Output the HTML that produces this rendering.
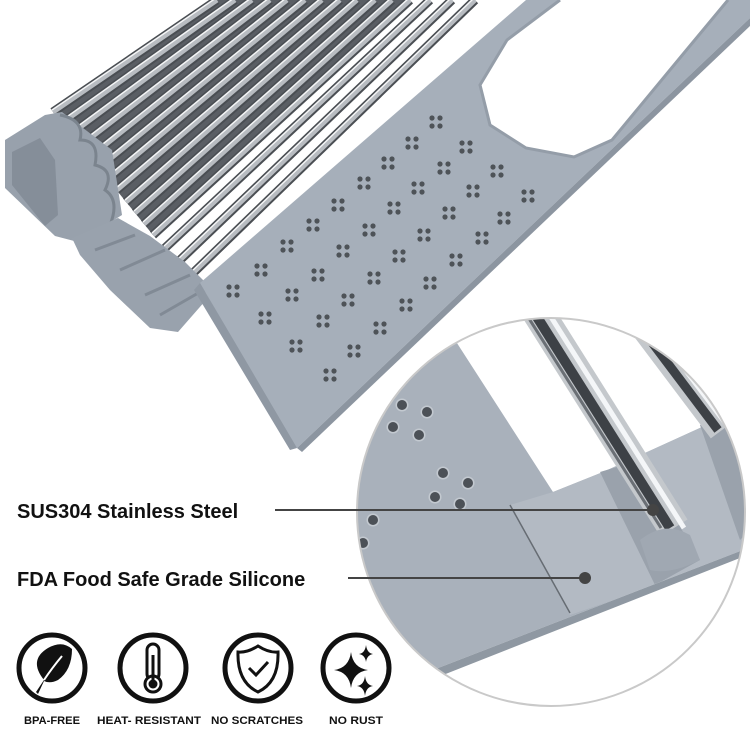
<!DOCTYPE html>
<html><head><meta charset="utf-8"><style>
html,body{margin:0;padding:0;background:#fff;}
svg{display:block;}
text{font-family:"Liberation Sans",sans-serif;font-weight:bold;fill:#111;}
</style></head><body>
<svg width="750" height="729" viewBox="0 0 750 729" xmlns="http://www.w3.org/2000/svg">
<defs>
  <g id="cl"><circle cx="-4" cy="-4" r="2.6" fill="#4e5358"/><circle cx="4" cy="-4" r="2.6" fill="#4e5358"/><circle cx="-4" cy="4" r="2.6" fill="#4e5358"/><circle cx="4" cy="4" r="2.6" fill="#4e5358"/></g>
  <g id="bd"><circle r="6.5" fill="#c3c9d0"/><circle r="5" fill="#4c5157"/></g>
  <clipPath id="cc"><circle cx="551" cy="512" r="194"/></clipPath>
</defs>
<rect width="750" height="729" fill="#fff"/>

<!-- rods top -->
<polygon points="53,112 217,0 410,0 153,235" fill="#5a5e64"/>
<g fill="none" stroke-linecap="butt">
 <g stroke="#4a4e53" stroke-width="9">
  <line x1="53" y1="112" x2="217" y2="0"/><line x1="62" y1="123" x2="235" y2="0"/><line x1="71" y1="134" x2="252" y2="0"/><line x1="80" y1="146" x2="270" y2="0"/>
  <line x1="90" y1="157" x2="287" y2="0"/><line x1="99" y1="168" x2="305" y2="0"/><line x1="108" y1="179" x2="322" y2="0"/><line x1="117" y1="190" x2="340" y2="0"/>
  <line x1="126" y1="202" x2="357" y2="0"/><line x1="135" y1="213" x2="375" y2="0"/><line x1="144" y1="224" x2="392" y2="0"/><line x1="153" y1="235" x2="410" y2="0"/>
  <line x1="165" y1="248" x2="430" y2="0"/><line x1="178" y1="262" x2="452" y2="0"/><line x1="190" y1="276" x2="475" y2="0"/>
 </g>
 <g stroke="#b8bcc1" stroke-width="5">
  <line x1="53" y1="112" x2="217" y2="0"/><line x1="62" y1="123" x2="235" y2="0"/><line x1="71" y1="134" x2="252" y2="0"/><line x1="80" y1="146" x2="270" y2="0"/>
  <line x1="90" y1="157" x2="287" y2="0"/><line x1="99" y1="168" x2="305" y2="0"/><line x1="108" y1="179" x2="322" y2="0"/><line x1="117" y1="190" x2="340" y2="0"/>
  <line x1="126" y1="202" x2="357" y2="0"/><line x1="135" y1="213" x2="375" y2="0"/><line x1="144" y1="224" x2="392" y2="0"/><line x1="153" y1="235" x2="410" y2="0"/>
  <line x1="165" y1="248" x2="430" y2="0"/><line x1="178" y1="262" x2="452" y2="0"/><line x1="190" y1="276" x2="475" y2="0"/>
 </g>
 <g stroke="#f4f5f6" stroke-width="1.5">
  <line x1="52" y1="110" x2="216" y2="-2"/><line x1="61" y1="121" x2="234" y2="-2"/><line x1="70" y1="132" x2="251" y2="-2"/><line x1="79" y1="144" x2="269" y2="-2"/>
  <line x1="89" y1="155" x2="286" y2="-2"/><line x1="98" y1="166" x2="304" y2="-2"/><line x1="107" y1="177" x2="321" y2="-2"/><line x1="116" y1="188" x2="339" y2="-2"/>
  <line x1="125" y1="200" x2="356" y2="-2"/><line x1="134" y1="211" x2="374" y2="-2"/><line x1="143" y1="222" x2="391" y2="-2"/><line x1="152" y1="233" x2="409" y2="-2"/>
  <line x1="164" y1="246" x2="429" y2="-2"/><line x1="177" y1="260" x2="451" y2="-2"/><line x1="189" y1="274" x2="474" y2="-2"/>
 </g>
</g>
<!-- end cap -->
<polygon points="5,140 45,115 62,112 112,150 122,215 78,242 55,236 5,188" fill="#98a1ac"/>
<polygon points="12,152 40,138 55,160 58,215 45,226 12,185" fill="#858e99"/>
<path d="M60,115 Q85,120 80,140 Q100,140 95,165 Q115,170 105,190 Q120,200 110,225" fill="none" stroke="#7b848e" stroke-width="3"/>
<polygon points="72,238 118,218 150,236 185,262 205,282 206,300 178,332 150,328 110,290 80,255" fill="#99a2ad"/>
<path d="M95,250 L135,235 M120,270 L165,250 M145,295 L190,275 M160,315 L200,292" stroke="#818a95" stroke-width="3"/>

<!-- main plate -->
<polygon points="200,283 526,0 750,0 750,18 297,448 290,440" fill="#a6afba"/>
<polygon points="297,448 750,18 750,26 302,452" fill="#8c95a0"/>
<polygon points="200,283 297,448 290,450 194,290" fill="#8f98a3"/>
<polygon points="560,0 507,40 480,85 490,125 526,148 574,157 612,140 684,53 728,0" fill="#fff"/>
<path d="M560,0 507,40 480,85 490,125 526,148 574,157 612,140 684,53 728,0" fill="none" stroke="#949da8" stroke-width="3"/>
<g>
<use href="#cl" x="436" y="122"/><use href="#cl" x="412" y="143"/><use href="#cl" x="466" y="147"/>
<use href="#cl" x="388" y="163"/><use href="#cl" x="444" y="168"/><use href="#cl" x="497" y="171"/>
<use href="#cl" x="364" y="183"/><use href="#cl" x="418" y="188"/><use href="#cl" x="473" y="191"/><use href="#cl" x="528" y="196"/>
<use href="#cl" x="338" y="205"/><use href="#cl" x="394" y="208"/><use href="#cl" x="449" y="213"/><use href="#cl" x="504" y="218"/>
<use href="#cl" x="313" y="225"/><use href="#cl" x="369" y="230"/><use href="#cl" x="424" y="235"/><use href="#cl" x="482" y="238"/>
<use href="#cl" x="287" y="246"/><use href="#cl" x="343" y="251"/><use href="#cl" x="399" y="256"/><use href="#cl" x="456" y="260"/>
<use href="#cl" x="261" y="270"/><use href="#cl" x="318" y="275"/><use href="#cl" x="374" y="278"/><use href="#cl" x="430" y="283"/>
<use href="#cl" x="233" y="291"/><use href="#cl" x="292" y="295"/><use href="#cl" x="348" y="300"/><use href="#cl" x="406" y="305"/>
<use href="#cl" x="265" y="318"/><use href="#cl" x="323" y="321"/><use href="#cl" x="380" y="328"/>
<use href="#cl" x="296" y="346"/><use href="#cl" x="354" y="351"/>
<use href="#cl" x="330" y="375"/>
</g>

<!-- zoom circle -->
<g clip-path="url(#cc)">
  <rect x="350" y="310" width="400" height="400" fill="#a9b1bb"/>
  <polygon points="455,340 553,492 603,472 713,422 760,405 760,300 470,300" fill="#fff"/>
  <polygon points="510,505 553,492 603,472 713,422 760,408 760,550 570,615" fill="#b3bac3"/>
  <polygon points="600,472 640,460 700,560 655,585" fill="#9aa2ac"/>
  <polygon points="700,425 740,412 760,520 740,540" fill="#9aa2ac"/>
  <polygon points="433,670 743,550 760,545 760,760 400,760" fill="#fff"/>
  <polygon points="433,670 743,550 745,556 438,677" fill="#8f98a2"/>
  <line x1="510" y1="505" x2="570" y2="613" stroke="#666c73" stroke-width="1.5"/>
  <!-- rods -->
  <line x1="524" y1="290" x2="674" y2="528" stroke="#c4c8cc" stroke-width="32"/>
  <line x1="520" y1="290" x2="670" y2="528" stroke="#3d4146" stroke-width="10"/>
  <line x1="534" y1="290" x2="684" y2="528" stroke="#f4f6f8" stroke-width="5"/>
  <line x1="511" y1="290" x2="661" y2="528" stroke="#6a6f75" stroke-width="3"/>
  <line x1="624" y1="300" x2="722" y2="430" stroke="#c4c8cc" stroke-width="28"/>
  <line x1="620" y1="300" x2="718" y2="430" stroke="#3d4146" stroke-width="9"/>
  <line x1="632" y1="300" x2="730" y2="430" stroke="#f4f6f8" stroke-width="4"/>
  <path d="M640,540 Q665,520 690,535 L700,560 Q670,575 650,570 Z" fill="#a0a8b2"/>
  <use href="#bd" x="402" y="405"/><use href="#bd" x="427" y="412"/><use href="#bd" x="393" y="427"/><use href="#bd" x="419" y="435"/>
  <use href="#bd" x="443" y="473"/><use href="#bd" x="468" y="483"/><use href="#bd" x="435" y="497"/><use href="#bd" x="460" y="504"/>
  <use href="#bd" x="373" y="520"/><use href="#bd" x="363" y="543"/>
</g>
<circle cx="551" cy="512" r="194" fill="none" stroke="#c9c9c9" stroke-width="2"/>

<!-- callouts -->
<line x1="275" y1="510" x2="653" y2="510" stroke="#444" stroke-width="2"/>
<circle cx="653" cy="510" r="6" fill="#444"/>
<line x1="348" y1="578" x2="585" y2="578" stroke="#444" stroke-width="2"/>
<circle cx="585" cy="578" r="6" fill="#444"/>
<text x="17" y="518" font-size="20">SUS304 Stainless Steel</text>
<text x="17" y="586" font-size="20">FDA Food Safe Grade Silicone</text>

<!-- icons -->
<g fill="none" stroke="#111" stroke-width="5">
  <circle cx="52" cy="668" r="33"/><circle cx="153" cy="668" r="33"/><circle cx="258" cy="668" r="33"/><circle cx="356" cy="668" r="33"/>
</g>
<path d="M36,692 L44,680 Q28,660 48,648 Q62,640 72,649 Q72,670 58,680 Q50,684 44,681 L38,694 Z" fill="#111"/>
<path d="M44,680 Q52,668 62,656" stroke="#fff" stroke-width="2" fill="none"/>
<rect x="147" y="644" width="12" height="36" rx="6" fill="none" stroke="#111" stroke-width="3"/>
<circle cx="153" cy="684" r="8" fill="#fff" stroke="#111" stroke-width="3"/>
<circle cx="153" cy="684" r="4.5" fill="#111"/>
<line x1="153" y1="655" x2="153" y2="682" stroke="#111" stroke-width="3"/>
<path d="M258,646 Q247,653 238,652 Q237,682 258,692 Q279,682 278,652 Q269,653 258,646 Z" fill="none" stroke="#111" stroke-width="3"/>
<path d="M249,668 L256,675 L268,662" fill="none" stroke="#111" stroke-width="3"/>
<path d="M351,652 Q353,668 368,670 Q353,672 351,688 Q349,672 334,670 Q349,668 351,652 Z" fill="#111"/>
<path d="M366,645 Q367,653 373,654 Q367,655 366,662 Q365,655 359,654 Q365,653 366,645 Z" fill="#111"/>
<path d="M365,676 Q366,685 373,686 Q366,687 365,696 Q364,687 357,686 Q364,685 365,676 Z" fill="#111"/>
<g font-size="11" text-anchor="middle">
  <text x="52" y="724" textLength="56" lengthAdjust="spacingAndGlyphs">BPA-FREE</text>
  <text x="149" y="724" textLength="104" lengthAdjust="spacingAndGlyphs">HEAT- RESISTANT</text>
  <text x="257" y="724" textLength="92" lengthAdjust="spacingAndGlyphs">NO SCRATCHES</text>
  <text x="356" y="724" textLength="54" lengthAdjust="spacingAndGlyphs">NO RUST</text>
</g>
</svg>
</body></html>
